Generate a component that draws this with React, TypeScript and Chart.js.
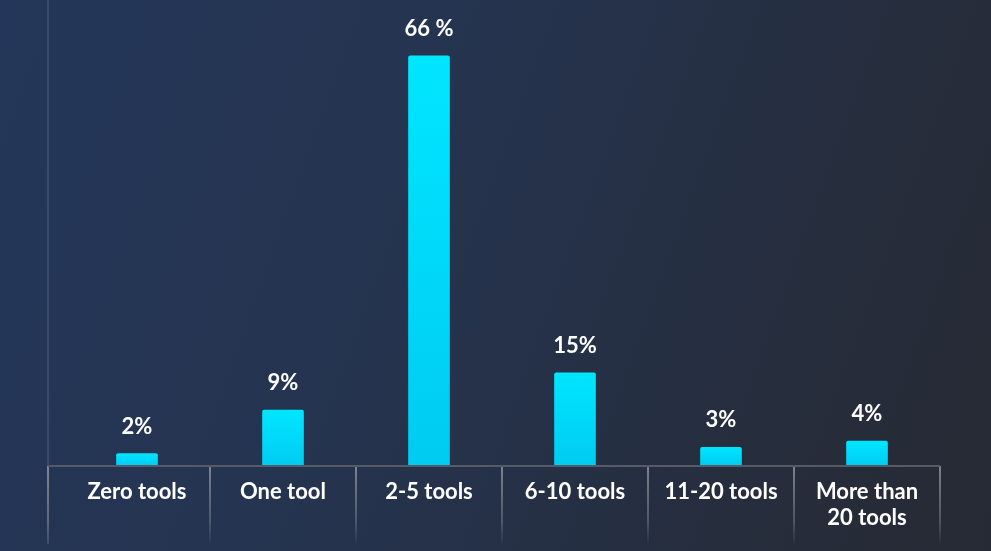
import React, { useEffect, useRef } from "react";
import { Chart, registerables } from "chart.js";

Chart.register(...registerables);

const categories: (string | string[])[] = [
  "Zero tools",
  "One tool",
  "2-5 tools",
  "6-10 tools",
  "11-20 tools",
  ["More than", "20 tools"],
];
const shares: number[] = [2, 9, 66, 15, 3, 4];
const shareLabels: string[] = ["2%", "9%", "66 %", "15%", "3%", "4%"];

const FONT = "Lato, 'Open Sans', sans-serif";
const AXIS_LEAD = 16; // axis/left rule extends a little left of the first category

const decorPlugin = {
  id: "decor",
  afterDatasetsDraw(chart: any) {
    const { ctx, chartArea, scales } = chart;
    const x = scales.x;
    const bottom = chartArea.bottom;
    const leftX = chartArea.left - AXIS_LEAD;
    ctx.save();
    ctx.strokeStyle = "rgba(120,140,175,0.26)";
    ctx.lineWidth = 2;
    ctx.beginPath();
    ctx.moveTo(leftX, 0);
    ctx.lineTo(leftX, bottom + 78);
    ctx.stroke();
    const n = categories.length;
    for (let i = 0; i <= n; i++) {
      let px: number;
      if (i === 0) px = leftX;
      else if (i === n) px = chartArea.right;
      else px = (x.getPixelForValue(i - 1) + x.getPixelForValue(i)) / 2;
      const g = ctx.createLinearGradient(0, bottom, 0, bottom + 80);
      g.addColorStop(0, "rgba(140,145,155,0.85)");
      g.addColorStop(0.7, "rgba(140,145,155,0.4)");
      g.addColorStop(1, "rgba(140,145,155,0)");
      ctx.strokeStyle = g;
      ctx.lineWidth = 2;
      ctx.beginPath();
      ctx.moveTo(px, bottom);
      ctx.lineTo(px, bottom + 80);
      ctx.stroke();
    }
    ctx.strokeStyle = "#545a66";
    ctx.lineWidth = 2;
    ctx.beginPath();
    ctx.moveTo(leftX, bottom);
    ctx.lineTo(chartArea.right, bottom);
    ctx.stroke();
    const meta = chart.getDatasetMeta(0);
    ctx.fillStyle = "#ffffff";
    ctx.font = `bold 22px ${FONT}`;
    ctx.textAlign = "center";
    ctx.textBaseline = "middle";
    meta.data.forEach((bar: any, i: number) => {
      ctx.fillText(shareLabels[i], bar.x, bar.y - 27);
    });
    ctx.restore();
  },
};

export default function App() {
  const ref = useRef<HTMLCanvasElement | null>(null);
  useEffect(() => {
    if (!ref.current) return;
    const chart = new Chart(ref.current, {
      type: "bar",
      data: {
        labels: categories,
        datasets: [
          {
            data: shares,
            barThickness: 41,
            borderRadius: 2,
            borderSkipped: "bottom",
            backgroundColor: (c: any) => {
              const area = c.chart.chartArea;
              const ys = c.chart.scales && c.chart.scales.y;
              if (!area || !ys || c.raw == null) return "#00dcff";
              const top = ys.getPixelForValue(c.raw);
              const g = c.chart.ctx.createLinearGradient(0, top, 0, area.bottom);
              g.addColorStop(0, "#00e6ff");
              g.addColorStop(1, "#00cbf2");
              return g;
            },
          },
        ],
      },
      options: {
        animation: false,
        responsive: true,
        maintainAspectRatio: false,
        layout: { padding: { left: 64, right: 51, top: 0, bottom: 0 } },
        plugins: {
          legend: { display: false },
          tooltip: { enabled: false },
        },
        scales: {
          x: {
            grid: { display: false },
            border: { display: false },
            ticks: {
              color: "#ffffff",
              font: { family: FONT, size: 22, weight: "bold", lineHeight: 1.18 },
              padding: 5,
              maxRotation: 0,
              autoSkip: false,
            },
            afterFit: (s: any) => {
              s.height = 85;
            },
          },
          y: {
            display: false,
            min: 0,
            max: 75,
          },
        },
      },
      plugins: [decorPlugin],
    });
    return () => chart.destroy();
  }, []);
  return (
    <div
      style={{
        position: "fixed",
        left: 0,
        top: 0,
        width: 991,
        height: 551,
        background: "linear-gradient(110deg, #24375a 0%, #25334d 45%, #262c39 85%, #262a34 100%)",
      }}
    >
      <canvas ref={ref} />
    </div>
  );
}
